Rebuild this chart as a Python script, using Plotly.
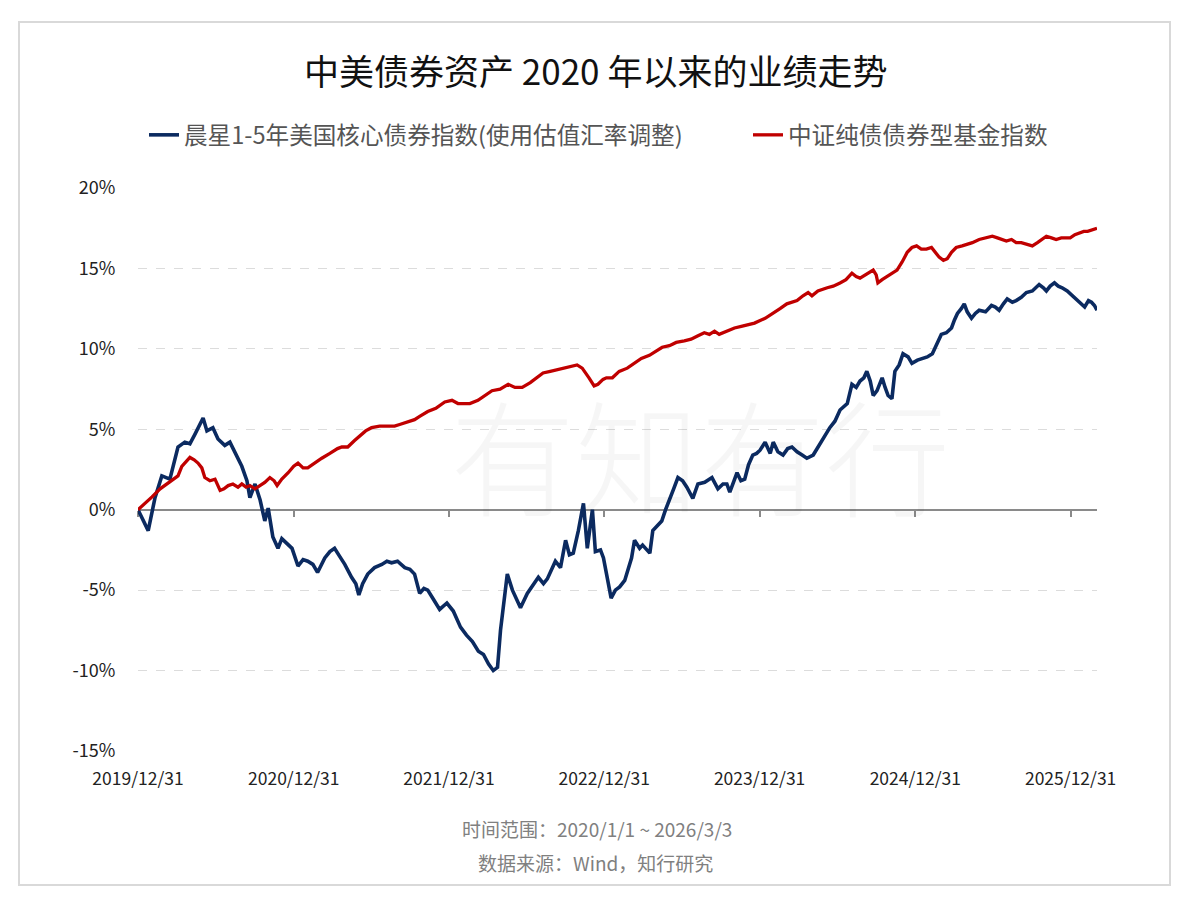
import plotly.graph_objects as go

# ---------------- data ----------------
blue_name = "晨星1-5年美国核心债券指数(使用估值汇率调整)"
red_name = "中证纯债债券型基金指数"

blue_dates = [
    "2019-12-31", "2020-01-12", "2020-01-24", "2020-02-09", "2020-02-25", "2020-03-15", "2020-04-03",
    "2020-04-19", "2020-05-01", "2020-05-13", "2020-06-01", "2020-06-10", "2020-06-24", "2020-07-06",
    "2020-07-22", "2020-08-03", "2020-08-15", "2020-08-31", "2020-09-12", "2020-09-19", "2020-10-01",
    "2020-10-13", "2020-10-24", "2020-11-01", "2020-11-12", "2020-11-24", "2020-12-03", "2020-12-15",
    "2020-12-27", "2021-01-10", "2021-01-22", "2021-02-02", "2021-02-14", "2021-02-25", "2021-03-14",
    "2021-03-26", "2021-04-06", "2021-04-18", "2021-04-30", "2021-05-16", "2021-05-26", "2021-06-02",
    "2021-06-11", "2021-06-23", "2021-07-09", "2021-07-26", "2021-08-07", "2021-08-18", "2021-09-01",
    "2021-09-18", "2021-09-30", "2021-10-11", "2021-10-23", "2021-11-02", "2021-11-11", "2021-11-25",
    "2021-12-09", "2021-12-26", "2022-01-10", "2022-01-27", "2022-02-10", "2022-02-24", "2022-03-10",
    "2022-03-22", "2022-04-03", "2022-04-14", "2022-04-24", "2022-05-01", "2022-05-08", "2022-05-17",
    "2022-05-29", "2022-06-12", "2022-06-17", "2022-07-03", "2022-07-17", "2022-07-29", "2022-08-10",
    "2022-08-19", "2022-09-07", "2022-09-19", "2022-10-01", "2022-10-10", "2022-10-19", "2022-10-31",
    "2022-11-12", "2022-11-21", "2022-11-28", "2022-12-03", "2022-12-10", "2022-12-22", "2022-12-29",
    "2023-01-05", "2023-01-16", "2023-01-26", "2023-02-05", "2023-02-17", "2023-02-24", "2023-03-05",
    "2023-03-12", "2023-03-24", "2023-03-31", "2023-04-17", "2023-04-24", "2023-05-06", "2023-05-15",
    "2023-05-24", "2023-06-03", "2023-06-12", "2023-06-22", "2023-07-03", "2023-07-13", "2023-07-27",
    "2023-08-08", "2023-08-24", "2023-09-10", "2023-09-24", "2023-10-06", "2023-10-15", "2023-10-22",
    "2023-11-08", "2023-11-17", "2023-11-26", "2023-12-05", "2023-12-15", "2023-12-24", "2024-01-01",
    "2024-01-13", "2024-01-25", "2024-02-01", "2024-02-12", "2024-02-24", "2024-03-06", "2024-03-16",
    "2024-03-28", "2024-04-09", "2024-04-20", "2024-05-05", "2024-05-16", "2024-05-26", "2024-06-04",
    "2024-06-13", "2024-06-25", "2024-07-07", "2024-07-24", "2024-08-04", "2024-08-14", "2024-08-23",
    "2024-09-01", "2024-09-08", "2024-09-16", "2024-09-23", "2024-10-02", "2024-10-14", "2024-10-21",
    "2024-10-28", "2024-11-06", "2024-11-13", "2024-11-23", "2024-12-02", "2024-12-14", "2024-12-23",
    "2025-01-05", "2025-01-16", "2025-01-28", "2025-02-09", "2025-02-18", "2025-03-02", "2025-03-14",
    "2025-03-26", "2025-04-02", "2025-04-09", "2025-04-18", "2025-04-25", "2025-05-02", "2025-05-12",
    "2025-05-21", "2025-05-30", "2025-06-14", "2025-06-28", "2025-07-07", "2025-07-16", "2025-07-26",
    "2025-08-04", "2025-08-16", "2025-08-25", "2025-09-06", "2025-09-18", "2025-10-02", "2025-10-18",
    "2025-10-28", "2025-11-04", "2025-11-13", "2025-11-23", "2025-12-02", "2025-12-11", "2025-12-23",
    "2026-01-05", "2026-01-16", "2026-01-26", "2026-02-02", "2026-02-11", "2026-02-18", "2026-02-25",
    "2026-03-03",
]
blue_values = [
    0.0, -0.6, -1.3, 0.75, 2.1, 1.9, 3.9,
    4.2, 4.1, 4.7, 5.7, 4.9, 5.1, 4.4,
    4.0, 4.2, 3.5, 2.7, 1.8, 0.75, 1.6,
    0.6, -0.7, 0.1, -1.7, -2.4, -1.8, -2.1,
    -2.4, -3.5, -3.1, -3.2, -3.4, -3.9, -3.0,
    -2.6, -2.4, -2.9, -3.4, -4.2, -4.6, -5.3,
    -4.6, -4.0, -3.6, -3.4, -3.2, -3.3, -3.2,
    -3.6, -3.7, -4.0, -5.2, -4.9, -5.0, -5.6,
    -6.2, -5.8, -6.3, -7.3, -7.8, -8.2, -8.8,
    -9.0, -9.6, -10.0, -9.8, -7.5, -5.8, -4.0,
    -5.0, -5.9, -6.1, -5.2, -4.7, -4.2, -4.6,
    -4.3, -3.2, -3.6, -1.9, -2.8, -2.7, -1.3,
    0.4, -2.4, -1.0, 0.0, -2.6, -2.5, -3.0,
    -4.0, -5.5, -5.0, -4.8, -4.4, -3.8, -3.0,
    -1.9, -2.4, -2.2, -2.7, -1.3, -1.0, -0.7,
    0.0, 0.75, 1.3, 2.0, 1.8, 1.4, 0.7,
    1.6, 1.7, 2.0, 1.3, 1.6, 1.6, 1.1,
    2.3, 1.8, 1.9, 2.8, 3.4, 3.5, 3.7,
    4.2, 3.5, 4.2, 3.6, 3.4, 3.8, 3.9,
    3.6, 3.4, 3.2, 3.4, 3.9, 4.3, 4.8,
    5.1, 5.5, 6.2, 6.6, 7.8, 7.6, 8.0,
    8.2, 8.6, 8.0, 7.1, 7.4, 8.2, 7.6,
    7.1, 6.9, 8.6, 9.0, 9.7, 9.5, 9.1,
    9.3, 9.4, 9.5, 9.7, 10.2, 10.9, 11.0,
    11.3, 11.8, 12.2, 12.5, 12.8, 12.3, 11.9,
    12.2, 12.4, 12.3, 12.7, 12.6, 12.4, 12.8,
    13.1, 12.9, 13.0, 13.2, 13.5, 13.6, 14.0,
    13.8, 13.6, 13.9, 14.1, 13.9, 13.8, 13.6,
    13.3, 13.0, 12.8, 12.6, 13.0, 12.9, 12.7,
    12.4,
]

red_dates = [
    "2019-12-31", "2020-01-17", "2020-02-02", "2020-02-21", "2020-03-08", "2020-03-25", "2020-04-03",
    "2020-04-12", "2020-04-22", "2020-05-01", "2020-05-11", "2020-05-20", "2020-05-29", "2020-06-05",
    "2020-06-17", "2020-06-29", "2020-07-11", "2020-07-20", "2020-07-30", "2020-08-10", "2020-08-22",
    "2020-08-31", "2020-09-10", "2020-09-19", "2020-10-01", "2020-10-13", "2020-10-24", "2020-11-05",
    "2020-11-15", "2020-11-22", "2020-12-03", "2020-12-18", "2020-12-31", "2021-01-10", "2021-01-22",
    "2021-02-02", "2021-02-18", "2021-03-07", "2021-03-26", "2021-04-13", "2021-04-23", "2021-05-07",
    "2021-05-23", "2021-06-04", "2021-06-18", "2021-07-02", "2021-07-21", "2021-08-09", "2021-08-25",
    "2021-09-06", "2021-09-18", "2021-09-30", "2021-10-11", "2021-10-23", "2021-11-11", "2021-11-30",
    "2021-12-21", "2022-01-07", "2022-01-21", "2022-02-02", "2022-02-18", "2022-03-09", "2022-03-26",
    "2022-04-11", "2022-04-30", "2022-05-19", "2022-06-04", "2022-06-21", "2022-07-10", "2022-07-26",
    "2022-08-09", "2022-08-26", "2022-09-11", "2022-09-25", "2022-10-12", "2022-10-28", "2022-11-09",
    "2022-11-16", "2022-11-25", "2022-12-07", "2022-12-16", "2022-12-28", "2023-01-05", "2023-01-19",
    "2023-02-04", "2023-02-23", "2023-03-11", "2023-03-28", "2023-04-16", "2023-05-02", "2023-05-16",
    "2023-06-02", "2023-06-18", "2023-07-07", "2023-07-23", "2023-08-07", "2023-08-23", "2023-09-04",
    "2023-09-16", "2023-09-27", "2023-10-16", "2023-11-02", "2023-11-18", "2023-12-02", "2023-12-19",
    "2024-01-13", "2024-02-01", "2024-02-17", "2024-03-04", "2024-03-18", "2024-03-28", "2024-04-11",
    "2024-04-23", "2024-05-02", "2024-05-16", "2024-06-07", "2024-06-21", "2024-07-07", "2024-07-21",
    "2024-08-04", "2024-08-14", "2024-08-23", "2024-09-06", "2024-09-23", "2024-09-30", "2024-10-04",
    "2024-10-14", "2024-10-26", "2024-11-06", "2024-11-18", "2024-11-30", "2024-12-12", "2024-12-23",
    "2025-01-03", "2025-01-14", "2025-01-26", "2025-02-07", "2025-02-16", "2025-02-25", "2025-03-07",
    "2025-03-16", "2025-03-26", "2025-04-06", "2025-04-20", "2025-05-02", "2025-05-14", "2025-05-30",
    "2025-06-16", "2025-06-30", "2025-07-12", "2025-07-23", "2025-08-02", "2025-08-14", "2025-08-25",
    "2025-09-06", "2025-09-18", "2025-10-02", "2025-10-14", "2025-10-26", "2025-11-04", "2025-11-16",
    "2025-11-27", "2025-12-09", "2025-12-19", "2025-12-30", "2026-01-10", "2026-01-21", "2026-01-31",
    "2026-02-09", "2026-02-21", "2026-03-03",
]
red_values = [
    0.0, 0.4, 0.8, 1.3, 1.6, 1.9, 2.1,
    2.7, 3.0, 3.25, 3.1, 2.9, 2.6, 2.0,
    1.8, 1.9, 1.2, 1.3, 1.5, 1.6, 1.4,
    1.6, 1.4, 1.5, 1.3, 1.5, 1.7, 2.0,
    1.8, 1.5, 1.9, 2.3, 2.7, 2.9, 2.6,
    2.6, 2.9, 3.2, 3.5, 3.8, 3.9, 3.9,
    4.3, 4.6, 4.9, 5.1, 5.2, 5.2, 5.2,
    5.3, 5.4, 5.5, 5.6, 5.8, 6.1, 6.3,
    6.7, 6.8, 6.6, 6.6, 6.6, 6.8, 7.1,
    7.4, 7.5, 7.8, 7.6, 7.6, 7.9, 8.2,
    8.5, 8.6, 8.7, 8.8, 8.9, 9.0, 8.8,
    8.5, 8.2, 7.7, 7.8, 8.1, 8.2, 8.2,
    8.6, 8.8, 9.1, 9.4, 9.6, 9.9, 10.1,
    10.2, 10.4, 10.5, 10.6, 10.8, 11.0, 10.9,
    11.1, 10.9, 11.1, 11.3, 11.4, 11.5, 11.6,
    11.9, 12.2, 12.5, 12.8, 12.9, 13.0, 13.3,
    13.5, 13.3, 13.6, 13.8, 13.9, 14.1, 14.3,
    14.7, 14.5, 14.4, 14.6, 14.9, 14.6, 14.1,
    14.3, 14.5, 14.7, 14.9, 15.4, 16.0, 16.3,
    16.4, 16.2, 16.2, 16.3, 16.0, 15.7, 15.5,
    15.6, 16.0, 16.3, 16.4, 16.5, 16.6, 16.8,
    16.9, 17.0, 16.9, 16.8, 16.7, 16.8, 16.6,
    16.6, 16.5, 16.4, 16.6, 16.8, 17.0, 16.9,
    16.8, 16.9, 16.9, 16.9, 17.1, 17.2, 17.3,
    17.3, 17.4, 17.5,
]

x_tick_vals = ["2019-12-31", "2020-12-31", "2021-12-31", "2022-12-31",
               "2023-12-31", "2024-12-31", "2025-12-31"]
x_tick_text = ["2019/12/31", "2020/12/31", "2021/12/31", "2022/12/31",
               "2023/12/31", "2024/12/31", "2025/12/31"]
y_tick_vals = [-15, -10, -5, 0, 5, 10, 15, 20]
y_tick_text = ["-15%", "-10%", "-5%", "0%", "5%", "10%", "15%", "20%"]
x_range = ["2019-12-31", "2026-03-03"]
y_range = [-15, 20]

title_text = "中美债券资产 2020 年以来的业绩走势"
footer_1 = "时间范围：2020/1/1 ~ 2026/3/3"
footer_2 = "数据来源：Wind，知行研究"
watermark = "有知有行"

# ---------------- styles ----------------
CJK = "Noto Sans CJK SC"
BLUE = "#0b2a60"
RED = "#c00000"
W, H = 1184, 906
L, R, T, B = 138, 87, 188, 155
pw, ph = W - L - R, H - T - B


def px_x(p):
    return (p - L) / pw


def px_y(p):
    return (H - B - p) / ph


fig = go.Figure()
fig.add_trace(go.Scatter(x=blue_dates, y=blue_values, mode="lines", name=blue_name,
                         line=dict(color=BLUE, width=3.6), hoverinfo="skip", legend="legend"))
fig.add_trace(go.Scatter(x=red_dates, y=red_values, mode="lines", name=red_name,
                         line=dict(color=RED, width=3.3), hoverinfo="skip", legend="legend2"))
# carrier for the zero-line axis (draws nothing)
fig.add_trace(go.Scatter(x=x_range, y=[None, None], xaxis="x2", mode="lines",
                         showlegend=False, hoverinfo="skip"))

legend_common = dict(orientation="h", xanchor="left", yanchor="middle", y=px_y(135),
                     font=dict(family=CJK, size=23.6, color="#555"), itemwidth=30,
                     bgcolor="rgba(0,0,0,0)")

fig.update_layout(
    width=W, height=H,
    margin=dict(l=L, r=R, t=T, b=B),
    paper_bgcolor="white", plot_bgcolor="white",
    font=dict(family=CJK, color="#222"),
    showlegend=True,
    legend=dict(x=px_x(144), **legend_common),
    legend2=dict(x=px_x(748), **legend_common),
    xaxis=dict(type="date", range=x_range, tickvals=x_tick_vals, ticktext=x_tick_text,
               showgrid=False, showline=False, zeroline=False,
               ticks="outside", ticklen=12, tickcolor="rgba(0,0,0,0)",
               tickfont=dict(family=CJK, size=17.5, color="#222")),
    xaxis2=dict(type="date", range=x_range, overlaying="x", anchor="free",
                position=(0 - y_range[0]) / (y_range[1] - y_range[0]),
                tickvals=x_tick_vals, showticklabels=False, showgrid=False, zeroline=False,
                showline=True, linecolor="#8a8a8a", linewidth=2,
                ticks="outside", ticklen=6, tickwidth=2, tickcolor="#8a8a8a",
                layer="below traces"),
    yaxis=dict(range=y_range, tickvals=y_tick_vals, ticktext=y_tick_text,
               showgrid=True, gridcolor="#dcdcdc", griddash="dash", gridwidth=1,
               zeroline=False, showline=False, ticks="outside", ticklen=18,
               tickcolor="rgba(0,0,0,0)",
               tickfont=dict(family=CJK, size=18, color="#222")),
)

fig.add_annotation(text=title_text, xref="paper", yref="paper", x=px_x(595), y=px_y(70),
                   xanchor="center", yanchor="middle", showarrow=False,
                   font=dict(family=CJK, size=35, color="#111", weight=400))
fig.add_annotation(text=footer_1, xref="paper", yref="paper", x=px_x(597), y=px_y(828),
                   xanchor="center", yanchor="middle", showarrow=False,
                   font=dict(family=CJK, size=19, color="#808080"))
fig.add_annotation(text=footer_2, xref="paper", yref="paper", x=px_x(595), y=px_y(862),
                   xanchor="center", yanchor="middle", showarrow=False,
                   font=dict(family=CJK, size=19, color="#808080"))
fig.add_annotation(text=watermark, xref="paper", yref="paper", x=px_x(700), y=px_y(452),
                   xanchor="center", yanchor="middle", showarrow=False,
                   font=dict(family=CJK, size=125, color="rgba(0,0,0,0.035)", weight=200))

# outer frame
fig.add_shape(type="rect", xref="paper", yref="paper",
              x0=px_x(19), x1=px_x(1170), y0=px_y(885), y1=px_y(22),
              line=dict(color="#d9d9d9", width=2), fillcolor="rgba(0,0,0,0)", layer="below")

fig.write_html("out.html", config={"displayModeBar": False},
               post_script="document.body.style.margin='0';")
